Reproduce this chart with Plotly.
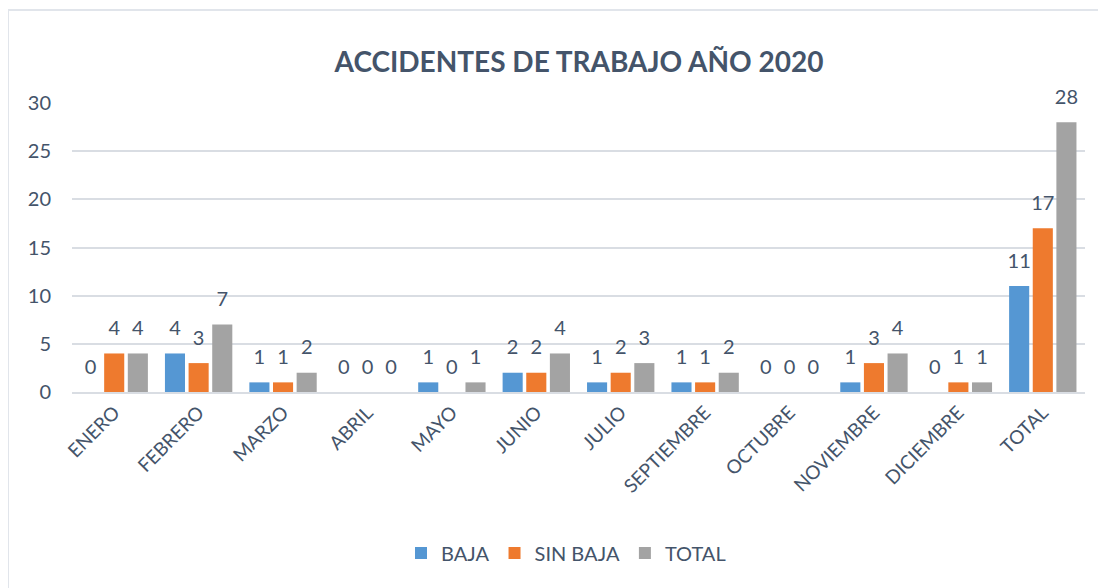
import plotly.graph_objects as go

categories = ["ENERO", "FEBRERO", "MARZO", "ABRIL", "MAYO", "JUNIO", "JULIO",
              "SEPTIEMBRE", "OCTUBRE", "NOVIEMBRE", "DICIEMBRE", "TOTAL"]
baja = [0, 4, 1, 0, 1, 2, 1, 1, 0, 1, 0, 11]
sin_baja = [4, 3, 1, 0, 0, 2, 2, 1, 0, 3, 1, 17]
total = [4, 7, 2, 0, 1, 4, 3, 2, 0, 4, 1, 28]
series_names = ["BAJA", "SIN BAJA", "TOTAL"]
series_values = [baja, sin_baja, total]
colors = ["#5597D3", "#EE7A2E", "#A3A3A3"]
y_ticks = [0, 5, 10, 15, 20, 25, 30]

TXT = "#44546A"
FONT = "Lato, 'Open Sans', sans-serif"

# page body has an 8px margin; figure coordinates are screenshot - 8
OFF = 8
W, H = 1106 - OFF, 588 - OFF
L, T = 72 - OFF, 103 - OFF
R = W - (1085 - OFF)
B = H - (392 - OFF)
pw, ph = W - L - R, H - T - B

fig = go.Figure()
for i, (name, vals) in enumerate(zip(series_names, series_values)):
    fig.add_trace(go.Bar(
        x=categories, y=vals, name=name, marker_color=colors[i],
        marker_line_width=0, offsetgroup=str(i), hoverinfo="skip",
    ))
for i, (name, vals) in enumerate(zip(series_names, series_values)):
    fig.add_trace(go.Scatter(
        x=categories, y=vals, mode="markers+text", text=[str(v) for v in vals],
        textposition="top center", textfont=dict(size=20, color=TXT, family=FONT),
        marker=dict(size=20, opacity=0), offsetgroup=str(i), showlegend=False,
        hoverinfo="skip", cliponaxis=False,
    ))

fig.update_layout(
    width=W, height=H,
    margin=dict(l=L, r=R, t=T, b=B),
    paper_bgcolor="white", plot_bgcolor="white",
    barmode="group", bargap=0.16, bargroupgap=0.15,
    scattermode="group", scattergap=0.16,
    font=dict(family=FONT, color=TXT, size=18),
    title=dict(text="<b>ACCIDENTES DE TRABAJO AÑO 2020</b>", x=(579 - OFF) / W, xanchor="center",
               y=1 - (62 - OFF) / H, yanchor="middle", font=dict(size=28, color=TXT, family=FONT)),
    xaxis=dict(tickangle=-45, showgrid=False, showline=True, linecolor="#D9DDE3", linewidth=2,
               tickfont=dict(size=19, color=TXT), ticks=""),
    yaxis=dict(range=[0, 30], tickvals=y_ticks, showgrid=True, gridcolor="#D9DDE3", gridwidth=1.5,
               zeroline=False, showline=False, tickfont=dict(size=20, color=TXT), ticklabelstandoff=20),
    legend=dict(orientation="h", x=(566 - 72) / pw, xanchor="center", y=-(553 - 392) / ph, yanchor="middle",
                font=dict(size=20, color=TXT), itemwidth=30, traceorder="normal"),
    showlegend=True,
    shapes=[dict(type="rect", xref="paper", yref="paper",
                 x0=(8 - 72) / pw, x1=(1130 - 72) / pw,
                 y0=-(620 - 392) / ph, y1=(392 - 10) / ph,
                 line=dict(color="#E1E5EB", width=2), fillcolor="rgba(0,0,0,0)", layer="below")],
)

fig.write_html("out.html")
